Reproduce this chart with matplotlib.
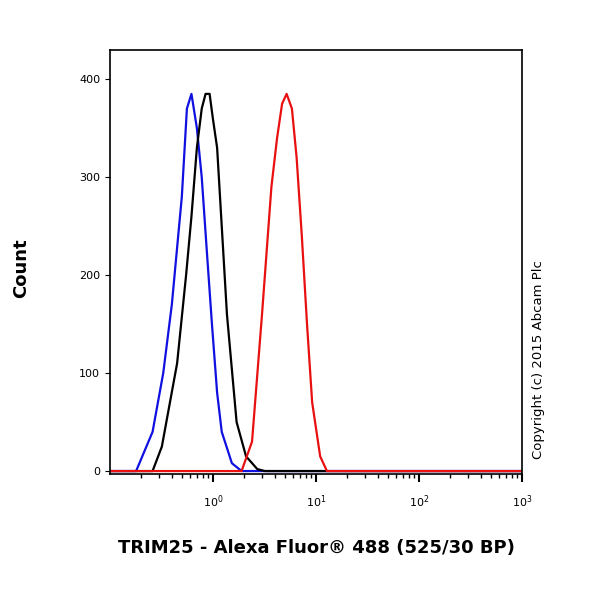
import matplotlib
matplotlib.use("Agg")
import matplotlib.pyplot as plt
from matplotlib.ticker import LogLocator, NullFormatter

blue_x = [0.1, 0.18, 0.26, 0.33, 0.4, 0.5, 0.56, 0.62, 0.7, 0.78, 0.88, 0.98, 1.1, 1.22, 1.53, 1.9, 1000]
blue_y = [0, 0, 40, 100, 170, 280, 370, 385, 350, 300, 220, 150, 80, 40, 8, 0, 0]
black_x = [0.1, 0.26, 0.32, 0.45, 0.55, 0.62, 0.7, 0.78, 0.85, 0.93, 1.0, 1.1, 1.37, 1.7, 2.1, 2.7, 3.2, 1000]
black_y = [0, 0, 25, 110, 200, 260, 330, 370, 385, 385, 360, 330, 160, 50, 15, 2, 0, 0]
red_x = [0.1, 1.9, 2.4, 3.0, 3.7, 4.2, 4.7, 5.2, 5.85, 6.5, 7.3, 8.2, 9.2, 11, 12.8, 1000]
red_y = [0, 0, 30, 160, 290, 340, 375, 385, 370, 320, 240, 150, 70, 15, 0, 0]

fig = plt.figure(figsize=(6, 6), dpi=100)
ax = fig.add_axes([0.183, 0.21, 0.687, 0.707])
ax.plot(blue_x, blue_y, color="#1010e0", lw=1.6)
ax.plot(black_x, black_y, color="black", lw=1.6)
ax.plot(red_x, red_y, color="#e81010", lw=1.6)
ax.set_xscale("log")
ax.set_xlim(0.1, 1000)
ax.set_ylim(-3, 430)
ax.set_xticks([1, 10, 100, 1000])
ax.set_xticklabels([r"$10^0$", r"$10^1$", r"$10^2$", r"$10^3$"], fontsize=8)
ax.xaxis.set_minor_locator(LogLocator(base=10, subs=range(2, 10)))
ax.xaxis.set_minor_formatter(NullFormatter())
ax.set_yticks([0, 100, 200, 300, 400])
ax.tick_params(axis="y", labelsize=8)
ax.tick_params(axis="x", which="major", length=6, width=1.5, pad=8)
ax.tick_params(axis="x", which="minor", length=3, width=1)
for s in ax.spines.values():
    s.set_linewidth(1.2)
fig.text(0.02, 0.553, "Count", rotation=90, fontsize=13, fontweight="bold", va="center", ha="left")
fig.text(0.527, 0.087, "TRIM25 - Alexa Fluor® 488 (525/30 BP)", fontsize=13, fontweight="bold", ha="center", va="center")
fig.text(0.897, 0.4, "Copyright (c) 2015 Abcam Plc", rotation=90, fontsize=9.5, ha="center", va="center")
fig.savefig("out.png")
